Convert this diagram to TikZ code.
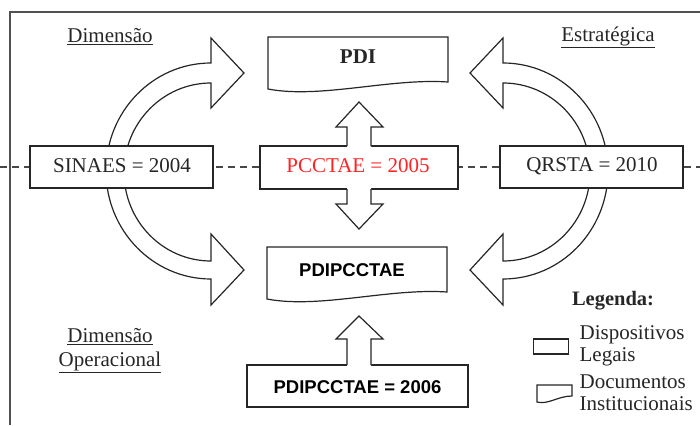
\documentclass[tikz,border=0pt]{standalone}
\usepackage{fontspec}
\setmainfont{Liberation Serif}
\newfontfamily\arialf{Liberation Sans}
\definecolor{ink}{HTML}{262626}
\definecolor{redtxt}{HTML}{FF2222}
\begin{document}
\begin{tikzpicture}[x=1pt,y=-1pt,line width=1.2pt,
  shapeline/.style={draw=ink, fill=white, line join=miter},
  boxnode/.style={draw=ink, fill=white, rectangle, inner sep=0pt, line width=1.2pt},
  serift/.style={font=\fontsize{21}{25}\selectfont, text=ink, inner sep=0pt},
  sanst/.style={font=\arialf\bfseries\fontsize{18.5}{22}\selectfont, text=black, inner sep=0pt},
  legt/.style={font=\fontsize{21}{25}\selectfont, text=ink, inner sep=0pt, anchor=west},
  guide/.style={draw=ink!85, line width=1.1pt, dash pattern=on 7pt off 5pt}]
\useasboundingbox (0,0) rectangle (700,425);

% frame
\draw[ink!80, line width=1.5pt] (10,425) -- (10,12) -- (700,12);

% dashed guide line
\draw[guide] (0,167) -- (700,167);

% left curved arrow
\path[shapeline] (211,38) -- (244,73) -- (211,108) -- (211,83)
  arc[start angle=90, end angle=270, x radius=87pt, y radius=89pt]
  -- (211,234) -- (244,270) -- (211,305) -- (211,279)
  arc[start angle=270, end angle=90, x radius=105pt, y radius=108pt]
  -- cycle;
% right curved arrow
\path[shapeline] (503,38) -- (470,73) -- (503,108) -- (503,83)
  arc[start angle=90, end angle=-90, x radius=87pt, y radius=89pt]
  -- (503,234) -- (470,270) -- (503,305) -- (503,279)
  arc[start angle=-90, end angle=90, x radius=105pt, y radius=108pt]
  -- cycle;

% boxes
\node[boxnode, minimum width=183pt, minimum height=42pt] (sinaes) at (121.5,167) {};
\node[boxnode, minimum width=198pt, minimum height=43pt] (pcc) at (359,167.5) {};
\node[boxnode, minimum width=183pt, minimum height=42pt] (qrsta) at (591.5,167) {};
\node[boxnode, minimum width=221pt, minimum height=42pt] (pdi2006) at (357.5,386) {};

% PDI document shape
\path[shapeline] (268,37) -- (448,37) -- (448,82)
  .. controls (390,78) and (320,99) .. (268,89) -- cycle;
% PDIPCCTAE document shape
\path[shapeline] (267,247) -- (447,247) -- (447,292)
  .. controls (389,288) and (319,309) .. (267,299) -- cycle;

% centre block arrows
\fill[white] (347,148) -- (347,127) -- (336,127) -- (359,102) -- (383,127) -- (371,127) -- (371,148) -- cycle;
\draw[ink, line join=miter] (347,146) -- (347,127) -- (336,127) -- (359,102) -- (383,127) -- (371,127) -- (371,146);
\fill[white] (347,187) -- (347,204) -- (336,204) -- (359,229) -- (383,204) -- (371,204) -- (371,187) -- cycle;
\draw[ink, line join=miter] (347,189) -- (347,204) -- (336,204) -- (359,229) -- (383,204) -- (371,204) -- (371,189);
\fill[white] (347,367) -- (347,339) -- (336,339) -- (359,316) -- (383,339) -- (371,339) -- (371,367) -- cycle;
\draw[ink, line join=miter] (347,365) -- (347,339) -- (336,339) -- (359,316) -- (383,339) -- (371,339) -- (371,365);

% texts
\node[serift] (pditxt) at (358,57) {\textbf{PDI}};
\node[sanst] (pdipcc) at (352,270) {PDIPCCTAE};
\node[sanst] (pdi2006txt) at (357.5,387) {PDIPCCTAE = 2006};
\node[serift] (sinaestxt) at (122,166) {SINAES = 2004};
\node[serift, text=redtxt] (pcctxt) at (358,166) {PCCTAE = 2005};
\node[serift] (qrstatxt) at (592,166) {QRSTA = 2010};

\node[serift] (dimtop) at (110,37) {\underline{Dimensão}};
\node[serift] (estr) at (608,37) {\underline{Estratégica}};
\node[serift] (dimbot) at (110,337) {\underline{Dimensão}};
\node[serift] (oper) at (110,362) {\underline{Operacional}};

% legend
\node[serift, font=\bfseries\fontsize{20.5}{24}\selectfont] (leg) at (613,301) {Legenda:};
\node[boxnode, minimum width=35pt, minimum height=15pt] (legbox) at (551,346.5) {};
\path[shapeline] (537,385) -- (572,385) -- (572,396)
  .. controls (558,396) and (548,405) .. (537,402) -- cycle;
\node[legt] (disp) at (579,335) {Dispositivos};
\node[legt] (legais) at (579,357) {Legais};
\node[legt] (docs) at (579,382) {Documentos};
\node[legt] (inst) at (579,404) {Institucionais};
\end{tikzpicture}
\end{document}
